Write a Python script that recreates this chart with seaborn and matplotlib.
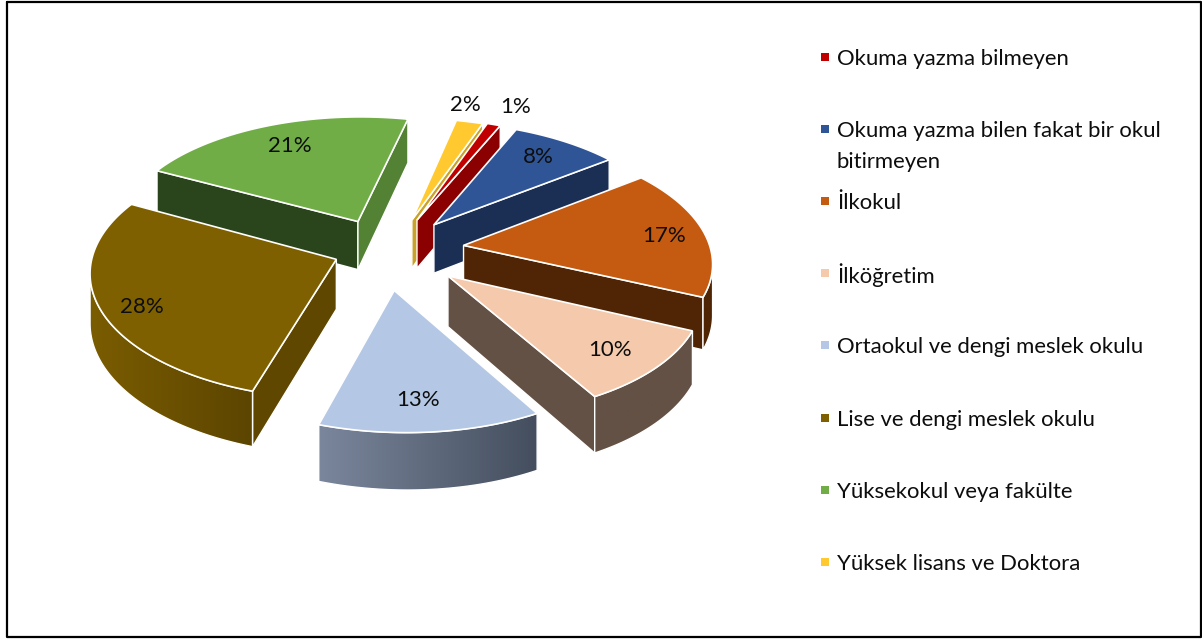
import numpy as np
import seaborn as sns
from matplotlib import pyplot as plt
from matplotlib.patches import Polygon

sns.set_theme(style="white")
plt.rcParams["font.family"] = ["Lato", "DejaVu Sans"]

LABELS = ["Okuma yazma bilmeyen", "Okuma yazma bilen fakat bir okul\nbitirmeyen", "İlkokul", "İlköğretim",
          "Ortaokul ve dengi meslek okulu", "Lise ve dengi meslek okulu", "Yüksekokul veya fakülte",
          "Yüksek lisans ve Doktora"]
VALUES = [1, 8, 17, 10, 13, 28, 21, 2]
TOP_COLORS = ["#c00000", "#2f5597", "#c55a11", "#f4c9ac", "#b4c7e4", "#7f6000", "#70ad47", "#ffc92f"]
# rim colours, left to right on screen
RIM_LEFT = ["#8b0000", "#1b2f55", "#4f2505", "#645145", "#7a869c", "#7a5c00", "#2a451c", "#c9a227"]
RIM_RIGHT = ["#8b0000", "#1b2f55", "#4f2505", "#645145", "#444e5e", "#5c4500", "#2a451c", "#c9a227"]
RADIAL_START = ["#8b0000", "#1b2f55", "#4f2505", "#645145", "#444e5e", "#5f4700", "#2a451c", "#c9a227"]
RADIAL_END = ["#8b0000", "#1b2f55", "#4f2505", "#645145", "#444e5e", "#5f4700", "#548235", "#c9a227"]
PCT_XY = [(516, 107), (538, 157), (664, 236), (610, 350), (418, 400), (142, 307), (290, 146), (465, 105)]

# projection of the pie plane onto the page, fitted to the picture
PROJECTION = [237.8086, -16.81832, -11.33051, 91.67202, 392.03685, 251.09171, -0.00554, -0.10679]
START_ANGLE, EXPLODE, DEPTH = 25.61789, 0.29014, 49.5
SLICE_SHIFT = [(0, 0), (0, 0), (2, -2), (2, 1), (-7, 4), (9, -5), (-5, 1), (1, 1)]
SLICE_RADIUS = [1, 1, 1, 1, 1, 1.025, 1.03, 1]

vals = np.array(VALUES, float)
cum = np.concatenate([[0], np.cumsum(vals)]) * 360 / vals.sum()
mids = START_ANGLE + (cum[:-1] + cum[1:]) / 2


def project(x, y, shift=(0, 0)):
    a, b, c, d, e, f, k, m = PROJECTION
    w = 1 + k * x + m * y
    return (a * x + b * y + e) / w + shift[0], (c * x + d * y + f) / w + shift[1], 1 / w


def direction(t):
    t = np.radians(t)
    return np.sin(t), -np.cos(t)


fig, ax = plt.subplots(figsize=(12.02, 6.4), dpi=100)
fig.subplots_adjust(0, 0, 1, 1)
ax.axis("off")

offsets = [np.multiply(direction(t), EXPLODE) for t in mids]
apex_y = [project(*o)[1] for o in offsets]

for rank, i in enumerate(np.argsort(apex_y)):
    z = 2 + rank
    ox, oy = offsets[i]
    angles = np.append(np.arange(cum[i], cum[i + 1], 0.5), cum[i + 1]) + START_ANGLE
    dx, dy = direction(angles)
    rad = SLICE_RADIUS[i]
    X, Y, W = project(ox + rad * dx, oy + rad * dy, SLICE_SHIFT[i])
    AX, AY, AW = project(ox, oy, SLICE_SHIFT[i])
    # radial faces, only the ones turned towards the viewer
    for x0, y0, w0, x1, y1, w1, col in [
        (AX, AY, AW, X[0], Y[0], W[0], RADIAL_START[i]),
        (X[-1], Y[-1], W[-1], AX, AY, AW, RADIAL_END[i]),
    ]:
        if x1 < x0:
            ax.fill([x0, x1, x1, x0], [y0, y1, y1 + DEPTH * w1, y0 + DEPTH * w0],
                    fc=col, ec="white", lw=1, zorder=z)
    # rim with a left to right gradient clipped to the visible part
    vis = np.where(np.diff(X) < 0)[0]
    if len(vis):
        idx = np.r_[vis, vis[-1] + 1]
        rx = np.r_[X[idx], X[idx][::-1]]
        ry = np.r_[Y[idx], (Y[idx] + DEPTH * W[idx])[::-1]]
        shape = Polygon(np.c_[rx, ry], closed=True, fc="none", ec="white", lw=1, zorder=z + 0.2)
        ax.add_patch(shape)
        grad = np.array(sns.blend_palette([RIM_LEFT[i], RIM_RIGHT[i]], 64))[None, :, :]
        im = ax.imshow(grad, extent=(rx.min(), rx.max(), ry.max(), ry.min()), aspect="auto",
                       interpolation="bilinear", zorder=z + 0.1)
        im.set_clip_path(shape)
    ax.fill(np.r_[AX, X], np.r_[AY, Y], fc=TOP_COLORS[i], ec="white", lw=1.2, zorder=z + 0.3)
    ax.text(*PCT_XY[i], f"{VALUES[i]}%", ha="center", va="center", fontsize=16, color="#0d0d0d", zorder=50)

ax.plot([7, 7, 1201, 1201, 7], [2, 637, 637, 2, 2], color="black", lw=1.6, clip_on=False)

LEGEND_TOP, LEGEND_STEP = 59, 72.1
for i, name in enumerate(LABELS):
    y = LEGEND_TOP + i * LEGEND_STEP
    ax.scatter([825], [y - 2], marker="s", s=30, color=TOP_COLORS[i], linewidths=0)
    for j, line in enumerate(name.split("\n")):
        ax.text(837, y + 31 * j, line, va="center", ha="left", fontsize=15.9, color="#0d0d0d")

ax.set_xlim(0, 1202)
ax.set_ylim(640, 0)
fig.savefig("out.png", dpi=100)
